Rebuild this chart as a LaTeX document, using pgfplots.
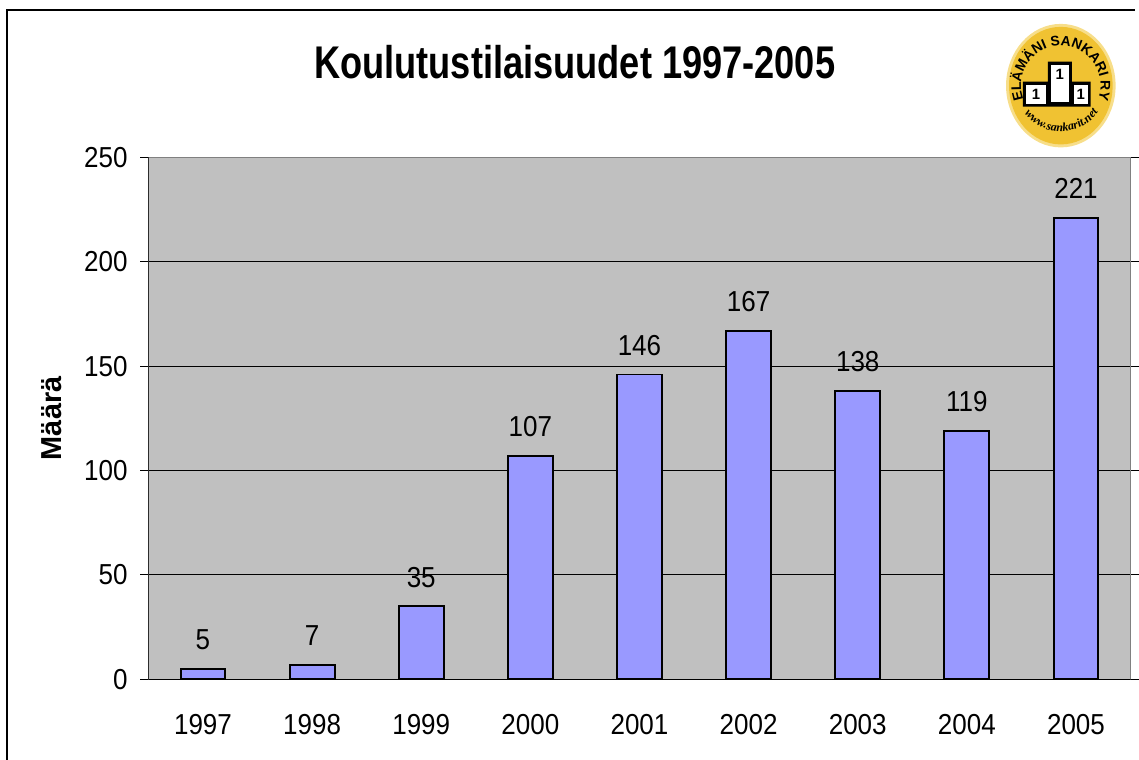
\documentclass[border=0pt]{standalone}
\usepackage{pgfplots}
\pgfplotsset{compat=1.18}
\usepackage{fontspec}
\setmainfont{Liberation Sans}
\newfontfamily\logoserif{Liberation Serif}
\usetikzlibrary{decorations.text}
\definecolor{plotbg}{HTML}{C0C0C0}
\definecolor{barfill}{HTML}{9999FF}
\definecolor{logoyel}{HTML}{F0C232}
\definecolor{logorim}{HTML}{F7DE8A}
\begin{document}
\begin{tikzpicture}
\begin{scope}[x=0.5pt,y=0.5pt]
\useasboundingbox (0,0) rectangle (1139,763);
% outer frame
\draw[line width=0.8pt] (7,0) -- (7,753) -- (1139,753);
% title
\node[anchor=base, font=\bfseries\fontsize{23}{26}\selectfont, xscale=0.79, inner sep=0pt] at (577,684) {Koulutustilaisuudet 1997-2005};
% logo
\fill[logorim] (1065,677) ellipse [x radius=55, y radius=62];
\fill[logoyel] (1065,677) ellipse [x radius=52, y radius=59];
\path[decorate, decoration={text along path, text align=center, text={|\bfseries\fontsize{7}{8}\selectfont|ELÄMÄNI SANKARI RY}}] (1065,677) ++(205:40) arc[start angle=205, end angle=-25, radius=40];
\path[decorate, decoration={text along path, text align=center, text={|\logoserif\itshape\bfseries\fontsize{6}{7}\selectfont|www.sankarit.net}}] (1065,677) ++(214:46) arc[start angle=214, end angle=328, radius=46];
\fill[black] (1027,656) -- (1027,681) -- (1052,681) -- (1052,701) -- (1076,701) -- (1076,681) -- (1095,681) -- (1095,656) -- cycle;
\fill[white] (1055,661) rectangle (1073,698);
\fill[white] (1030,659) rectangle (1050,678);
\fill[white] (1078,659) rectangle (1092,678);
\node[font=\bfseries\fontsize{7.5}{8}\selectfont] at (1064,688) {1};
\node[font=\bfseries\fontsize{7.5}{8}\selectfont] at (1040,668) {1};
\node[font=\bfseries\fontsize{7.5}{8}\selectfont] at (1085,668) {1};
\end{scope}
\begin{axis}[
  at={(74.5pt,40.5pt)}, anchor=south west,
  scale only axis, width=493pt, height=262pt,
  ybar, bar width=22.5pt,
  xmin=-0.5, xmax=8.5, ymin=0, ymax=250,
  xtick={0,...,8},
  xticklabels={1997,1998,1999,2000,2001,2002,2003,2004,2005},
  minor xtick={-0.5,0.5,...,8.5},
  ytick={0,50,...,250},
  tick align=outside,
  major tick length=4pt, minor tick length=4.5pt,
  xtick style={draw=none},
  minor x tick style={black, line width=0.5pt},
  ytick style={black, line width=0.5pt},
  ymajorgrids,
  grid style={black, line width=0.5pt},
  axis line style={draw=gray, line width=0.8pt},
  axis background/.style={fill=plotbg},
  /pgf/number format/assume math mode=true,
  tick label style={font=\fontsize{14.5}{16}\selectfont, xscale=0.9},
  xticklabel style={anchor=north, inner sep=0pt, yshift=-13.5pt},
  yticklabel style={anchor=east, inner sep=0pt, xshift=-7pt},
  ylabel={\bfseries Määrä},
  ylabel style={font=\fontsize{14.5}{16}\selectfont, at={(axis description cs:0,0.5)}, anchor=center, yshift=48.5pt},
  nodes near coords,
  every node near coord/.append style={font=\fontsize{14.5}{16}\selectfont, xscale=0.9, anchor=south, inner sep=0pt, yshift=9pt, black},
]
\addplot[fill=barfill, draw=black, line width=1pt] coordinates {
(0,5) (1,7) (2,35) (3,107) (4,146) (5,167) (6,138) (7,119) (8,221)
};
\draw[black, line width=0.8pt] (rel axis cs:0,1) -- (rel axis cs:0,0) -- (rel axis cs:1,0);
\end{axis}
\end{tikzpicture}
\end{document}
